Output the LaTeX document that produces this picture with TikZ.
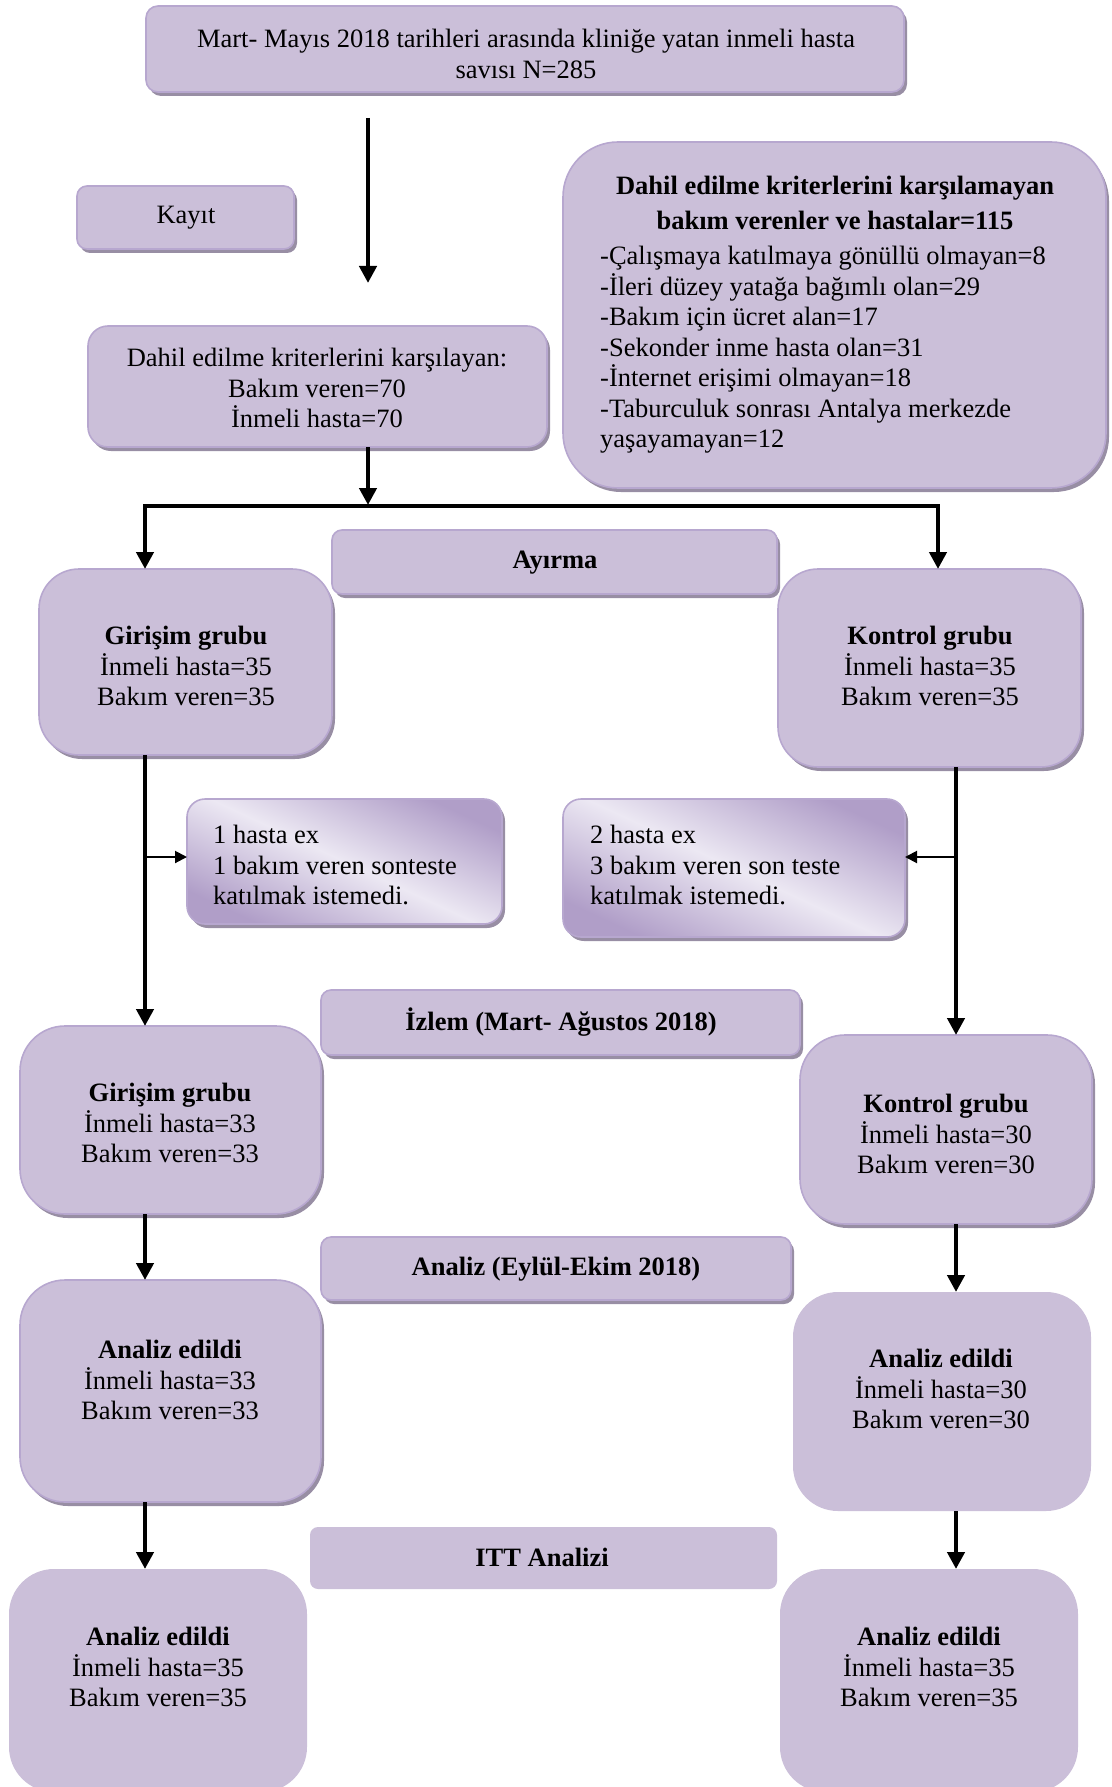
\documentclass[tikz,border=0pt]{standalone}
\usepackage{fontspec}
\setmainfont{Liberation Serif}
\usetikzlibrary{arrows.meta,shadows}

\definecolor{boxfill}{RGB}{203,191,217}
\definecolor{boxedge}{RGB}{183,167,207}
\definecolor{boxshadow}{RGB}{152,142,164}
\definecolor{exdark}{RGB}{176,158,200}
\definecolor{exlight}{RGB}{236,232,243}

% \flowbox{name}{style}{x1}{y1}{x2}{y2}: a box spanning the given corners
\newcommand\flowbox[6]{%
  \node[#2, minimum width={(#5)-(#3)}, minimum height={(#6)-(#4)}]
    (#1) at ({((#3)+(#5))/2},{((#4)+(#6))/2}) {};}

\begin{document}
\begin{tikzpicture}[x=1pt,y=-1pt,
  panel/.style={rectangle, rounded corners=#1, fill=boxfill, draw=boxedge,
    line width=1.6pt, inner sep=0pt, outer sep=0pt},
  panel/.default=10pt,
  shadowed/.style={drop shadow={shadow xshift=3pt, shadow yshift=-4pt,
    fill=boxshadow, opacity=1}},
  faded/.style={rectangle, rounded corners=18pt, draw=boxedge, line width=1.6pt,
    inner sep=0pt, outer sep=0pt, top color=exdark, bottom color=exdark,
    middle color=exlight, shading angle=-25},
  txt/.style={inner sep=0pt, align=center, font=\fontsize{26.5}{30.5}\selectfont},
  txtl/.style={txt, align=left, anchor=west},
  flowarrow/.style={line width=4.6pt, line join=miter,
    -{Triangle[width=17pt,length=17pt]}},
  sidearrow/.style={line width=2pt, -{Triangle[width=12pt,length=12pt]}}
]
\useasboundingbox (0,0) rectangle (1111,1787);
\clip (0,0) rectangle (1111,1787);

% ---- boxes ----
\flowbox{top}{panel=12pt, shadowed}{146}{6}{904}{92}
\flowbox{kayit}{panel=10pt, shadowed}{77}{186}{294}{249}
\flowbox{crit}{panel=55pt, shadowed}{563}{142}{1106}{488}
\flowbox{incl}{panel=20pt, shadowed}{88}{326}{547}{447}
\flowbox{ayirma}{panel=10pt, shadowed}{332}{530}{777}{594}
\flowbox{gir1}{panel=40pt, shadowed}{39}{569}{332}{755}
\flowbox{kon1}{panel=40pt, shadowed}{778}{569}{1081}{767}
\flowbox{ex1}{faded, shadowed}{187}{799}{502}{924}
\flowbox{ex2}{faded, shadowed}{563}{799}{905}{937}
\flowbox{izlem}{panel=10pt, shadowed}{321}{990}{800}{1055}
\flowbox{gir2}{panel=45pt, shadowed}{20}{1026}{321}{1214}
\flowbox{kon2}{panel=45pt, shadowed}{800}{1035}{1092}{1224}
\flowbox{analiz}{panel=10pt, shadowed}{321}{1237}{791}{1300}
\flowbox{ae1}{panel=45pt, shadowed}{20}{1280}{321}{1502}
\flowbox{ae2}{panel=45pt, draw=none}{793}{1292}{1091}{1511}
\flowbox{itt}{panel=8pt, draw=none}{310}{1527}{777}{1589}
\flowbox{fin1}{panel=45pt, draw=none}{9}{1569}{307}{1792}
\flowbox{fin2}{panel=45pt, draw=none}{780}{1569}{1078}{1792}

% ---- texts ----
\node[txt] (top-t) at (526,54)
  {Mart- Mayıs 2018 tarihleri arasında kliniğe yatan inmeli hasta\\savısı N=285};
\node[txt] (kayit-t) at (186,218) {Kayıt};
\node[txt] (crit-h) at (835,203)
  {\textbf{Dahil edilme kriterlerini karşılamayan}\\[4.5pt]\textbf{bakım verenler ve hastalar=115}};
\node[txtl] (crit-l) at (600,350)
  {-Çalışmaya katılmaya gönüllü olmayan=8\\-İleri düzey yatağa bağımlı olan=29\\
   -Bakım için ücret alan=17\\-Sekonder inme hasta olan=31\\
   -İnternet erişimi olmayan=18\\-Taburculuk sonrası Antalya merkezde\\yaşayamayan=12};
\node[txt] (incl-t) at (317,388)
  {Dahil edilme kriterlerini karşılayan:\\Bakım veren=70\\İnmeli hasta=70};
\node[txt] (ayirma-t) at (555,563) {\textbf{Ayırma}};
\node[txt] (gir1-t) at (186,666)
  {\textbf{Girişim grubu}\\İnmeli hasta=35\\Bakım veren=35};
\node[txt] (kon1-t) at (930,666)
  {\textbf{Kontrol grubu}\\İnmeli hasta=35\\Bakım veren=35};
\node[txtl] (ex1-t) at (213,865)
  {1 hasta ex\\1 bakım veren sonteste\\katılmak istemedi.};
\node[txtl] (ex2-t) at (590,865)
  {2 hasta ex\\3 bakım veren son teste\\katılmak istemedi.};
\node[txt] (izlem-t) at (561,1022) {\textbf{İzlem (Mart- Ağustos 2018)}};
\node[txt] (gir2-t) at (170,1123)
  {\textbf{Girişim grubu}\\İnmeli hasta=33\\Bakım veren=33};
\node[txt] (kon2-t) at (946,1134)
  {\textbf{Kontrol grubu}\\İnmeli hasta=30\\Bakım veren=30};
\node[txt] (analiz-t) at (556,1269) {\textbf{Analiz (Eylül-Ekim 2018)}};
\node[txt] (ae1-t) at (170,1380)
  {\textbf{Analiz edildi}\\İnmeli hasta=33\\Bakım veren=33};
\node[txt] (ae2-t) at (941,1389)
  {\textbf{Analiz edildi}\\İnmeli hasta=30\\Bakım veren=30};
\node[txt] (itt-t) at (542,1557) {\textbf{ITT Analizi}};
\node[txt] (fin1-t) at (158,1667)
  {\textbf{Analiz edildi}\\İnmeli hasta=35\\Bakım veren=35};
\node[txt] (fin2-t) at (929,1667)
  {\textbf{Analiz edildi}\\İnmeli hasta=35\\Bakım veren=35};

% ---- connector points ----
\coordinate (enrolA) at (368,118);
\coordinate (enrolB) at (368,283);
\coordinate (inclout) at (368,447);
\coordinate (split) at (368,506);
\coordinate (splitL) at (145,506);
\coordinate (splitR) at (938,506);
\coordinate (leftA) at (145,755);
\coordinate (leftB) at (145,857);
\coordinate (rightA) at (956,767);
\coordinate (rightB) at (956,857);

% ---- connectors ----
\draw[flowarrow] (enrolA) -- (enrolB);
\draw[flowarrow] (inclout) -- ([yshift=1pt]split);
\draw[flowarrow, {Triangle[width=17pt,length=17pt]}-{Triangle[width=17pt,length=17pt]}]
  (gir1.north -| splitL) -- (splitL) -- (splitR) -- (kon1.north -| splitR);
\draw[flowarrow] (leftA) -- (gir2.north -| leftA);
\draw[sidearrow] (leftB) -- (leftB -| ex1.west);
\draw[flowarrow] (rightA) -- (kon2.north -| rightA);
\draw[sidearrow] (rightB) -- (rightB -| ex2.east);
\draw[flowarrow] (gir2.south -| leftA) -- (ae1.north -| leftA);
\draw[flowarrow] (kon2.south -| rightA) -- (ae2.north -| rightA);
\draw[flowarrow] (ae1.south -| leftA) -- (fin1.north -| leftA);
\draw[flowarrow] (ae2.south -| rightA) -- (fin2.north -| rightA);
\end{tikzpicture}
\end{document}
